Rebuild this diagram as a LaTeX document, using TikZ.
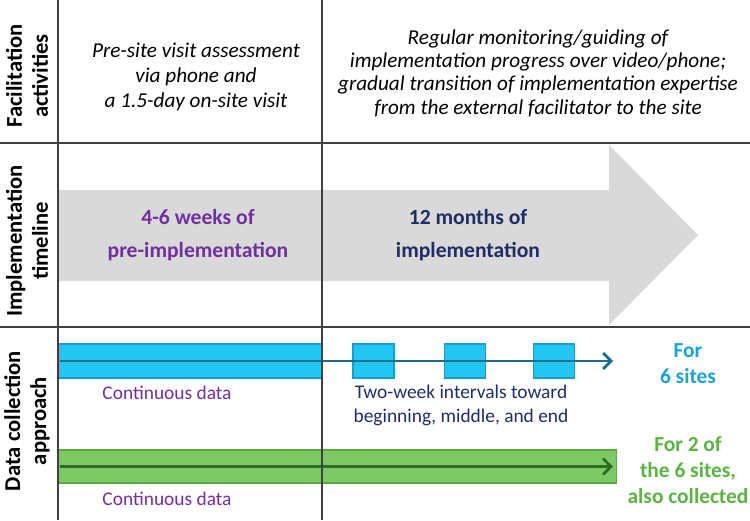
\documentclass[tikz,border=0pt]{standalone}
\usepackage{fontspec}
\setmainfont{Carlito}
\usepackage{xcolor}
\usetikzlibrary{arrows.meta,positioning,calc}
\definecolor{tlgray}{HTML}{D9D9D9}
\definecolor{prepurple}{HTML}{7030A0}
\definecolor{impnavy}{HTML}{1F2D66}
\definecolor{sixfill}{HTML}{22C6F2}
\definecolor{sixedge}{HTML}{1E9ACB}
\definecolor{sixline}{HTML}{1C6D8A}
\definecolor{sixtext}{HTML}{1BA3D8}
\definecolor{twofill}{HTML}{7DC963}
\definecolor{twoedge}{HTML}{5AAA44}
\definecolor{twoline}{HTML}{2E6B29}
\definecolor{twotext}{HTML}{5BB344}
\tikzset{
  rule/.style={draw=black!75,line width=0.65pt},
  rowlbl/.style={rotate=90,align=center,inner sep=0pt,font=\fontsize{11.3}{13}\selectfont\bfseries},
  act/.style={align=center,inner sep=0pt,font=\fontsize{10.6}{#1}\selectfont\itshape},
  act/.default={12.5},
  phase/.style={align=center,inner sep=0pt,text=#1,font=\fontsize{10.8}{16.5}\selectfont\bfseries},
  bar/.style={draw=#1edge,fill=#1fill,line width=0.6pt,minimum height=17pt,inner sep=0pt},
  wk/.style={bar=six,minimum width=20.5pt},
  runarr/.style={-{Straight Barb[length=4pt,width=8pt,line width=1.4pt]},line width=1.4pt,draw=#1line},
  note/.style={align=center,inner sep=0pt,text=#1,font=\fontsize{9.7}{12}\selectfont},
  who/.style={align=center,inner sep=0pt,text=#1text,font=\fontsize{10.7}{13}\selectfont\bfseries},
}
\begin{document}
\begin{tikzpicture}[x=0.5pt,y=-0.5pt]
 \useasboundingbox (0,0) rectangle (750,520);
 % timeline arrow
 \fill[tlgray] (58,190) -- (609,190) -- (609,145) -- (698,235) -- (609,325) -- (609,281) -- (58,281) -- cycle;
 % data collection bars
 \node[bar=six,minimum width=132pt,anchor=west] (cont6) at (58,361) {};
 \node[wk] (wk1) at (373.5,361) {};
 \node[wk] (wk2) at (465,361) {};
 \node[wk] (wk3) at (554,361) {};
 \coordinate (end6) at (613,361);
 \draw[runarr=six] ($(cont6.west)+(1pt,0)$) -- (end6);
 \node[bar=two,minimum width=279pt,minimum height=16.5pt,anchor=west] (cont2) at (58,466.5) {};
 \coordinate (end2) at (613,466.5);
 \draw[runarr=two] ($(cont2.west)+(1pt,0)$) -- (end2);
 % table rules
 \draw[rule] (0,143) -- (750,143);
 \draw[rule] (0,327) -- (750,327);
 \draw[rule] (58,0) -- (58,520);
 \draw[rule] (322,0) -- (322,520);
 % row labels
 \node[rowlbl] (lfac) at (27,76) {Facilitation\\activities};
 \node[rowlbl] (ltime) at (27,241) {Implementation\\timeline};
 \node[rowlbl] (ldata) at (27,421) {Data collection\\approach};
 % facilitation
 \node[act] (presite) at (196,77) {Pre-site visit assessment\\via phone and\\a 1.5-day on-site visit};
 \node[act=11.7] (regular) at (538,73) {Regular monitoring/guiding of\\implementation progress over video/phone;\\gradual transition of implementation expertise\\from the external facilitator to the site};
 % timeline
 \node[phase=prepurple] (pre) at (198,235) {4-6 weeks of\\pre-implementation};
 \node[phase=impnavy] (imp) at (468,235) {12 months of\\implementation};
 % data notes
 \node[note=prepurple] (cd6) at (167,393) {Continuous data};
 \node[note=impnavy] (twowk) at (461,405) {Two-week intervals toward\\beginning, middle, and end};
 \node[note=prepurple] (cd2) at (167,499) {Continuous data};
 \node[who=six] (for6) at (688,364) {For\\6 sites};
 \node[who=two] (for2) at (688,470) {For 2 of\\the 6 sites,\\also collected};
\end{tikzpicture}
\end{document}
